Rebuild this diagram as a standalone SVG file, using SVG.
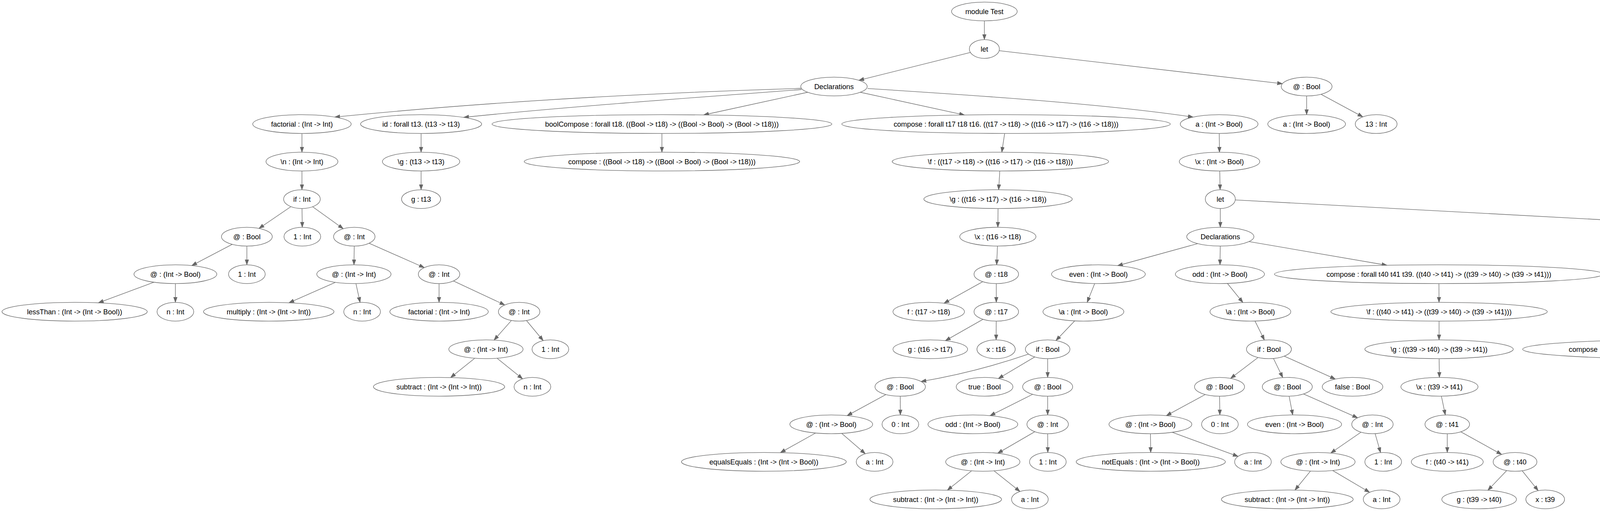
<svg xmlns="http://www.w3.org/2000/svg" width="5594" height="1307" viewBox="0 0 5594 1307">
<style>
.node ellipse{fill:#fff;stroke:#666;stroke-width:1.33}
.node text{font-family:"Liberation Sans",Arial,Helvetica,sans-serif;font-size:18.2px;text-anchor:middle;fill:#000}
.edges path{stroke:#666;stroke-width:1.33;fill:none;marker-end:url(#arrow)}
</style>
<defs>
<marker id="arrow" markerUnits="userSpaceOnUse" markerWidth="15" markerHeight="12" refX="13.3" refY="5" orient="auto">
<path d="M0,0.3 L13.3,5 L0,9.7 Z" fill="#666" stroke="#666" stroke-width="1"/>
</marker>
</defs>
<rect width="5594" height="1307" fill="#fff"/>
<g id="connectors" class="edges">
<path d="M2520,53.3 L2520,101.3"/>
<path d="M2484.3,134.2 L2198.7,205.4"/>
<path d="M2557.9,129.7 L3283,214.1"/>
<path d="M2052,226 C1652,238 1257,259.4 857,299.4"/>
<path d="M2052,229 C1800,248 1450,273 1187,300.2"/>
<path d="M2067.7,236 L1801.3,294"/>
<path d="M2202.3,236 L2469,294.1"/>
<path d="M2221,226.4 C2500,244 2820,265 3054.5,299.5"/>
<path d="M3345,245.3 L3345,293.3"/>
<path d="M3381.7,241.1 L3488.8,298.8"/>
<path d="M773,341.3 L773,389.3"/>
<path d="M1078,341.3 L1078,389.3"/>
<path d="M1694.5,341.3 L1694.5,389.3"/>
<path d="M2571.9,341.3 L2564.6,389.3"/>
<path d="M3121.3,341.3 L3121.8,389.3"/>
<path d="M773,437.3 L773,485.3"/>
<path d="M1078,437.3 L1078,485.3"/>
<path d="M2559.5,437.3 L2556.5,485.3"/>
<path d="M3122.5,437.3 L3123.5,485.3"/>
<path d="M744.8,528.5 L663,584.2"/>
<path d="M773.2,533.3 L773.8,581.3"/>
<path d="M800.3,528.8 L878.7,585"/>
<path d="M2555,533.3 L2554.5,581.3"/>
<path d="M3124,533.3 L3124,581.3"/>
<path d="M3162.4,511.4 L4842.7,601.9"/>
<path d="M594.6,624.9 L491,679.3"/>
<path d="M632,629.3 L632,677.3"/>
<path d="M906.8,629.3 L906.2,677.3"/>
<path d="M944.9,622.1 L1086.1,684.5"/>
<path d="M2553.5,629.3 L2551.5,677.3"/>
<path d="M3066.2,623.1 L2861,679.5"/>
<path d="M3123.8,629.3 L3123.2,677.3"/>
<path d="M3197.3,617.9 L3550.7,678.5"/>
<path d="M4906.4,629.3 L4906.1,677.3"/>
<path d="M4962.3,617.3 L5295.7,689.2"/>
<path d="M393.9,721.8 L251.9,774.6"/>
<path d="M449,725.3 L449,773.3"/>
<path d="M858.7,722.1 L739.8,774.5"/>
<path d="M911.2,725.3 L921.8,773.5"/>
<path d="M1124,725.3 L1124,773.3"/>
<path d="M1160.8,718.6 L1292.2,780"/>
<path d="M2516,720.4 L2416.6,775.6"/>
<path d="M2550.5,725.3 L2550.5,773.3"/>
<path d="M2802.4,725.2 L2783.1,773.4"/>
<path d="M3142.2,725 L3181.8,773.7"/>
<path d="M3683.6,725.3 L3683.9,773.3"/>
<path d="M4863.4,723.7 L4768.1,773.8"/>
<path d="M4948.8,723.7 L5046.7,774.9"/>
<path d="M5351.6,725.3 L5352,773.3"/>
<path d="M5390,720.6 L5509.6,780.7"/>
<path d="M1309.3,819.6 L1264.7,869.9"/>
<path d="M1347.7,819.8 L1390.6,871.2"/>
<path d="M2516.6,816.6 L2420.1,871.4"/>
<path d="M2550.4,821.3 L2550.1,869.3"/>
<path d="M2751.2,820.7 L2703.2,871"/>
<path d="M3212.8,821.1 L3236.9,869.8"/>
<path d="M3684,821.3 L3684,869.3"/>
<path d="M4621.8,818.7 L4376,870.4"/>
<path d="M4737.2,821.3 L4764.8,869.5"/>
<path d="M5089.4,821.3 L5089.1,869.3"/>
<path d="M5147.9,818.1 L5307.9,875.2"/>
<path d="M1215.4,916.2 L1153.5,965.7"/>
<path d="M1272.4,916.2 L1337.9,969"/>
<path d="M2633.2,905.7 Q2498,952 2357.8,975.8"/>
<path d="M2649.1,912.9 L2555.8,968.3"/>
<path d="M2682,917.3 L2682,965.3"/>
<path d="M3220.8,914.3 L3150.3,967.8"/>
<path d="M3260,916.8 L3283.9,965.7"/>
<path d="M3287.7,910.9 L3418.5,969.6"/>
<path d="M3684.2,917.3 L3684.8,965.3"/>
<path d="M4745.2,916.3 L4673.7,965.7"/>
<path d="M4811.5,916.3 L4884.9,967.6"/>
<path d="M2268.1,1009.1 L2168.7,1063.1"/>
<path d="M2304.6,1013.3 L2304.9,1061.3"/>
<path d="M2643.7,1008.5 L2534.7,1063.1"/>
<path d="M2682,1013.3 L2682,1061.3"/>
<path d="M3085.6,1009 L2985.8,1063.2"/>
<path d="M3122.2,1013.3 L3122.8,1061.3"/>
<path d="M3300.1,1013.2 L3309.4,1061.3"/>
<path d="M3337,1007.6 L3475.5,1068.6"/>
<path d="M3690,1013.3 L3700,1061.4"/>
<path d="M2088,1107.5 L1997.7,1157.8"/>
<path d="M2154.8,1108.5 L2215.1,1160.6"/>
<path d="M2649.3,1104.2 L2554,1159.3"/>
<path d="M2682.1,1109.3 L2682.4,1157.3"/>
<path d="M2945.2,1109.3 L2945.8,1157.3"/>
<path d="M3000.8,1105.7 L3169.4,1167.3"/>
<path d="M3484.4,1105.3 L3406.7,1158.8"/>
<path d="M3520.3,1109.1 L3534.2,1157.6"/>
<path d="M3705,1109.3 L3705,1157.3"/>
<path d="M3739.5,1104.4 L3844.2,1162.3"/>
<path d="M2487.3,1204.2 L2425.2,1253.7"/>
<path d="M2544.7,1204.2 L2611.1,1257.1"/>
<path d="M3354.8,1204.8 L3315,1253.5"/>
<path d="M3411.5,1203.4 L3506.2,1259.2"/>
<path d="M3857.2,1203.5 L3808.9,1254"/>
<path d="M3896.7,1204 L3937.7,1254.9"/>
</g>
<g id="n0" class="node"><ellipse cx="2520" cy="29.3" rx="84" ry="24"/><text x="2520" y="35.8">module Test</text></g>
<g id="n1" class="node"><ellipse cx="2520" cy="125.3" rx="38.5" ry="24"/><text x="2520" y="131.8">let</text></g>
<g id="n2" class="node"><ellipse cx="2135" cy="221.3" rx="85" ry="24"/><text x="2135" y="227.8">Declarations</text></g>
<g id="n3" class="node"><ellipse cx="3345" cy="221.3" rx="65" ry="24"/><text x="3345" y="227.8">@ : Bool</text></g>
<g id="n4" class="node"><ellipse cx="773" cy="317.3" rx="126" ry="24"/><text x="773" y="323.8">factorial : (Int -&gt; Int)</text></g>
<g id="n5" class="node"><ellipse cx="1078" cy="317.3" rx="155" ry="24"/><text x="1078" y="323.8">id : forall t13. (t13 -&gt; t13)</text></g>
<g id="n6" class="node"><ellipse cx="1694.5" cy="317.3" rx="435" ry="24"/><text x="1694.5" y="323.8">boolCompose : forall t18. ((Bool -&gt; t18) -&gt; ((Bool -&gt; Bool) -&gt; (Bool -&gt; t18)))</text></g>
<g id="n7" class="node"><ellipse cx="2575.5" cy="317.3" rx="420.5" ry="24"/><text x="2575.5" y="323.8">compose : forall t17 t18 t16. ((t17 -&gt; t18) -&gt; ((t16 -&gt; t17) -&gt; (t16 -&gt; t18)))</text></g>
<g id="n8" class="node"><ellipse cx="3121" cy="317.3" rx="99.5" ry="24"/><text x="3121" y="323.8">a : (Int -&gt; Bool)</text></g>
<g id="n9" class="node"><ellipse cx="3345" cy="317.3" rx="99.5" ry="24"/><text x="3345" y="323.8">a : (Int -&gt; Bool)</text></g>
<g id="n10" class="node"><ellipse cx="3523" cy="317.3" rx="53.5" ry="24"/><text x="3523" y="323.8">13 : Int</text></g>
<g id="n11" class="node"><ellipse cx="773" cy="413.3" rx="92" ry="24"/><text x="773" y="419.8">\n : (Int -&gt; Int)</text></g>
<g id="n12" class="node"><ellipse cx="1078" cy="413.3" rx="99" ry="24"/><text x="1078" y="419.8">\g : (t13 -&gt; t13)</text></g>
<g id="n13" class="node"><ellipse cx="1694.5" cy="413.3" rx="352.5" ry="24"/><text x="1694.5" y="419.8">compose : ((Bool -&gt; t18) -&gt; ((Bool -&gt; Bool) -&gt; (Bool -&gt; t18)))</text></g>
<g id="n14" class="node"><ellipse cx="2561" cy="413.3" rx="277" ry="24"/><text x="2561" y="419.8">\f : ((t17 -&gt; t18) -&gt; ((t16 -&gt; t17) -&gt; (t16 -&gt; t18)))</text></g>
<g id="n15" class="node"><ellipse cx="3122" cy="413.3" rx="103" ry="24"/><text x="3122" y="419.8">\x : (Int -&gt; Bool)</text></g>
<g id="n16" class="node"><ellipse cx="773" cy="509.3" rx="47" ry="24"/><text x="773" y="515.8">if : Int</text></g>
<g id="n17" class="node"><ellipse cx="1078" cy="509.3" rx="50" ry="24"/><text x="1078" y="515.8">g : t13</text></g>
<g id="n18" class="node"><ellipse cx="2555" cy="509.3" rx="190" ry="24"/><text x="2555" y="515.8">\g : ((t16 -&gt; t17) -&gt; (t16 -&gt; t18))</text></g>
<g id="n19" class="node"><ellipse cx="3124" cy="509.3" rx="38.5" ry="24"/><text x="3124" y="515.8">let</text></g>
<g id="n20" class="node"><ellipse cx="632" cy="605.3" rx="65" ry="24"/><text x="632" y="611.8">@ : Bool</text></g>
<g id="n21" class="node"><ellipse cx="774" cy="605.3" rx="47" ry="24"/><text x="774" y="611.8">1 : Int</text></g>
<g id="n22" class="node"><ellipse cx="907" cy="605.3" rx="53" ry="24"/><text x="907" y="611.8">@ : Int</text></g>
<g id="n23" class="node"><ellipse cx="2554.5" cy="605.3" rx="97.5" ry="24"/><text x="2554.5" y="611.8">\x : (t16 -&gt; t18)</text></g>
<g id="n24" class="node"><ellipse cx="3124" cy="605.3" rx="86" ry="24"/><text x="3124" y="611.8">Declarations</text></g>
<g id="n25" class="node"><ellipse cx="4906.5" cy="605.3" rx="64.5" ry="24"/><text x="4906.5" y="611.8">@ : Bool</text></g>
<g id="n26" class="node"><ellipse cx="449" cy="701.3" rx="106" ry="24"/><text x="449" y="707.8">@ : (Int -&gt; Bool)</text></g>
<g id="n27" class="node"><ellipse cx="632" cy="701.3" rx="47" ry="24"/><text x="632" y="707.8">1 : Int</text></g>
<g id="n28" class="node"><ellipse cx="906" cy="701.3" rx="95" ry="24"/><text x="906" y="707.8">@ : (Int -&gt; Int)</text></g>
<g id="n29" class="node"><ellipse cx="1124" cy="701.3" rx="53" ry="24"/><text x="1124" y="707.8">@ : Int</text></g>
<g id="n30" class="node"><ellipse cx="2550.5" cy="701.3" rx="57" ry="24"/><text x="2550.5" y="707.8">@ : t18</text></g>
<g id="n31" class="node"><ellipse cx="2812" cy="701.3" rx="120" ry="24"/><text x="2812" y="707.8">even : (Int -&gt; Bool)</text></g>
<g id="n32" class="node"><ellipse cx="3123" cy="701.3" rx="114" ry="24"/><text x="3123" y="707.8">odd : (Int -&gt; Bool)</text></g>
<g id="n33" class="node"><ellipse cx="3683.5" cy="701.3" rx="421" ry="24"/><text x="3683.5" y="707.8">compose : forall t40 t41 t39. ((t40 -&gt; t41) -&gt; ((t39 -&gt; t40) -&gt; (t39 -&gt; t41)))</text></g>
<g id="n34" class="node"><ellipse cx="4906" cy="701.3" rx="118" ry="24"/><text x="4906" y="707.8">@ : (Bool -&gt; Bool)</text></g>
<g id="n35" class="node"><ellipse cx="5351.6" cy="701.3" rx="64.7" ry="24"/><text x="5351.6" y="707.8">@ : Bool</text></g>
<g id="n36" class="node"><ellipse cx="191" cy="797.3" rx="186" ry="24"/><text x="191" y="803.8">lessThan : (Int -&gt; (Int -&gt; Bool))</text></g>
<g id="n37" class="node"><ellipse cx="449" cy="797.3" rx="47" ry="24"/><text x="449" y="803.8">n : Int</text></g>
<g id="n38" class="node"><ellipse cx="688" cy="797.3" rx="167" ry="24"/><text x="688" y="803.8">multiply : (Int -&gt; (Int -&gt; Int))</text></g>
<g id="n39" class="node"><ellipse cx="927" cy="797.3" rx="47" ry="24"/><text x="927" y="803.8">n : Int</text></g>
<g id="n40" class="node"><ellipse cx="1124" cy="797.3" rx="126" ry="24"/><text x="1124" y="803.8">factorial : (Int -&gt; Int)</text></g>
<g id="n41" class="node"><ellipse cx="1329" cy="797.3" rx="53" ry="24"/><text x="1329" y="803.8">@ : Int</text></g>
<g id="n42" class="node"><ellipse cx="2377.5" cy="797.3" rx="91.5" ry="24"/><text x="2377.5" y="803.8">f : (t17 -&gt; t18)</text></g>
<g id="n43" class="node"><ellipse cx="2550.5" cy="797.3" rx="57" ry="24"/><text x="2550.5" y="803.8">@ : t17</text></g>
<g id="n44" class="node"><ellipse cx="2773.5" cy="797.3" rx="103.5" ry="24"/><text x="2773.5" y="803.8">\a : (Int -&gt; Bool)</text></g>
<g id="n45" class="node"><ellipse cx="3201" cy="797.3" rx="103.5" ry="24"/><text x="3201" y="803.8">\a : (Int -&gt; Bool)</text></g>
<g id="n46" class="node"><ellipse cx="3684" cy="797.3" rx="277" ry="24"/><text x="3684" y="803.8">\f : ((t40 -&gt; t41) -&gt; ((t39 -&gt; t40) -&gt; (t39 -&gt; t41)))</text></g>
<g id="n47" class="node"><ellipse cx="4723.4" cy="797.3" rx="223" ry="24"/><text x="4723.4" y="803.8">@ : ((Bool -&gt; Bool) -&gt; (Bool -&gt; Bool))</text></g>
<g id="n48" class="node"><ellipse cx="5089.5" cy="797.3" rx="118" ry="24"/><text x="5089.5" y="803.8">@ : (Bool -&gt; Bool)</text></g>
<g id="n49" class="node"><ellipse cx="5352" cy="797.3" rx="120.5" ry="24"/><text x="5352" y="803.8">even : (Int -&gt; Bool)</text></g>
<g id="n50" class="node"><ellipse cx="5542.7" cy="797.3" rx="46" ry="24"/><text x="5542.7" y="803.8">x : Int</text></g>
<g id="n51" class="node"><ellipse cx="1244" cy="893.3" rx="95" ry="24"/><text x="1244" y="899.8">@ : (Int -&gt; Int)</text></g>
<g id="n52" class="node"><ellipse cx="1409" cy="893.3" rx="47" ry="24"/><text x="1409" y="899.8">1 : Int</text></g>
<g id="n53" class="node"><ellipse cx="2381.5" cy="893.3" rx="95.5" ry="24"/><text x="2381.5" y="899.8">g : (t16 -&gt; t17)</text></g>
<g id="n54" class="node"><ellipse cx="2550" cy="893.3" rx="49" ry="24"/><text x="2550" y="899.8">x : t16</text></g>
<g id="n55" class="node"><ellipse cx="2682" cy="893.3" rx="57" ry="24"/><text x="2682" y="899.8">if : Bool</text></g>
<g id="n56" class="node"><ellipse cx="3248.5" cy="893.3" rx="57.5" ry="24"/><text x="3248.5" y="899.8">if : Bool</text></g>
<g id="n57" class="node"><ellipse cx="3684" cy="893.3" rx="190" ry="24"/><text x="3684" y="899.8">\g : ((t39 -&gt; t40) -&gt; (t39 -&gt; t41))</text></g>
<g id="n58" class="node"><ellipse cx="4267" cy="893.3" rx="369" ry="24"/><text x="4267" y="899.8">compose : ((Bool -&gt; Bool) -&gt; ((Bool -&gt; Bool) -&gt; (Bool -&gt; Bool)))</text></g>
<g id="n59" class="node"><ellipse cx="4778.5" cy="893.3" rx="117.5" ry="24"/><text x="4778.5" y="899.8">@ : (Bool -&gt; Bool)</text></g>
<g id="n60" class="node"><ellipse cx="5089" cy="893.3" rx="168" ry="24"/><text x="5089" y="899.8">or : (Bool -&gt; (Bool -&gt; Bool))</text></g>
<g id="n61" class="node"><ellipse cx="5358.6" cy="893.3" rx="77" ry="24"/><text x="5358.6" y="899.8">false : Bool</text></g>
<g id="n62" class="node"><ellipse cx="1124" cy="989.3" rx="168" ry="24"/><text x="1124" y="995.8">subtract : (Int -&gt; (Int -&gt; Int))</text></g>
<g id="n63" class="node"><ellipse cx="1363" cy="989.3" rx="47" ry="24"/><text x="1363" y="995.8">n : Int</text></g>
<g id="n64" class="node"><ellipse cx="2304.5" cy="989.3" rx="64.5" ry="24"/><text x="2304.5" y="995.8">@ : Bool</text></g>
<g id="n65" class="node"><ellipse cx="2520.5" cy="989.3" rx="72.5" ry="24"/><text x="2520.5" y="995.8">true : Bool</text></g>
<g id="n66" class="node"><ellipse cx="2682" cy="989.3" rx="64" ry="24"/><text x="2682" y="995.8">@ : Bool</text></g>
<g id="n67" class="node"><ellipse cx="3122" cy="989.3" rx="64" ry="24"/><text x="3122" y="995.8">@ : Bool</text></g>
<g id="n68" class="node"><ellipse cx="3295.5" cy="989.3" rx="64" ry="24"/><text x="3295.5" y="995.8">@ : Bool</text></g>
<g id="n69" class="node"><ellipse cx="3462.5" cy="989.3" rx="77.5" ry="24"/><text x="3462.5" y="995.8">false : Bool</text></g>
<g id="n70" class="node"><ellipse cx="3685" cy="989.3" rx="98.7" ry="24"/><text x="3685" y="995.8">\x : (t39 -&gt; t41)</text></g>
<g id="n71" class="node"><ellipse cx="4639.6" cy="989.3" rx="178.6" ry="24"/><text x="4639.6" y="995.8">and : (Bool -&gt; (Bool -&gt; Bool))</text></g>
<g id="n72" class="node"><ellipse cx="4916" cy="989.3" rx="73" ry="24"/><text x="4916" y="995.8">true : Bool</text></g>
<g id="n73" class="node"><ellipse cx="2128" cy="1085.3" rx="106" ry="24"/><text x="2128" y="1091.8">@ : (Int -&gt; Bool)</text></g>
<g id="n74" class="node"><ellipse cx="2305" cy="1085.3" rx="47" ry="24"/><text x="2305" y="1091.8">0 : Int</text></g>
<g id="n75" class="node"><ellipse cx="2490.5" cy="1085.3" rx="115" ry="24"/><text x="2490.5" y="1091.8">odd : (Int -&gt; Bool)</text></g>
<g id="n76" class="node"><ellipse cx="2682" cy="1085.3" rx="53" ry="24"/><text x="2682" y="1091.8">@ : Int</text></g>
<g id="n77" class="node"><ellipse cx="2945" cy="1085.3" rx="106" ry="24"/><text x="2945" y="1091.8">@ : (Int -&gt; Bool)</text></g>
<g id="n78" class="node"><ellipse cx="3123" cy="1085.3" rx="47" ry="24"/><text x="3123" y="1091.8">0 : Int</text></g>
<g id="n79" class="node"><ellipse cx="3314" cy="1085.3" rx="120.5" ry="24"/><text x="3314" y="1091.8">even : (Int -&gt; Bool)</text></g>
<g id="n80" class="node"><ellipse cx="3513.5" cy="1085.3" rx="53" ry="24"/><text x="3513.5" y="1091.8">@ : Int</text></g>
<g id="n81" class="node"><ellipse cx="3705" cy="1085.3" rx="57" ry="24"/><text x="3705" y="1091.8">@ : t41</text></g>
<g id="n82" class="node"><ellipse cx="1955.5" cy="1181.3" rx="211" ry="24"/><text x="1955.5" y="1187.8">equalsEquals : (Int -&gt; (Int -&gt; Bool))</text></g>
<g id="n83" class="node"><ellipse cx="2239" cy="1181.3" rx="47" ry="24"/><text x="2239" y="1187.8">a : Int</text></g>
<g id="n84" class="node"><ellipse cx="2516" cy="1181.3" rx="95" ry="24"/><text x="2516" y="1187.8">@ : (Int -&gt; Int)</text></g>
<g id="n85" class="node"><ellipse cx="2682.5" cy="1181.3" rx="47" ry="24"/><text x="2682.5" y="1187.8">1 : Int</text></g>
<g id="n86" class="node"><ellipse cx="2946" cy="1181.3" rx="191" ry="24"/><text x="2946" y="1187.8">notEquals : (Int -&gt; (Int -&gt; Bool))</text></g>
<g id="n87" class="node"><ellipse cx="3207.6" cy="1181.3" rx="47" ry="24"/><text x="3207.6" y="1187.8">a : Int</text></g>
<g id="n88" class="node"><ellipse cx="3374" cy="1181.3" rx="95" ry="24"/><text x="3374" y="1187.8">@ : (Int -&gt; Int)</text></g>
<g id="n89" class="node"><ellipse cx="3541" cy="1181.3" rx="47" ry="24"/><text x="3541" y="1187.8">1 : Int</text></g>
<g id="n90" class="node"><ellipse cx="3705" cy="1181.3" rx="92" ry="24"/><text x="3705" y="1187.8">f : (t40 -&gt; t41)</text></g>
<g id="n91" class="node"><ellipse cx="3878.5" cy="1181.3" rx="56" ry="24"/><text x="3878.5" y="1187.8">@ : t40</text></g>
<g id="n92" class="node"><ellipse cx="2395.5" cy="1277.3" rx="168.5" ry="24"/><text x="2395.5" y="1283.8">subtract : (Int -&gt; (Int -&gt; Int))</text></g>
<g id="n93" class="node"><ellipse cx="2636.5" cy="1277.3" rx="47" ry="24"/><text x="2636.5" y="1283.8">a : Int</text></g>
<g id="n94" class="node"><ellipse cx="3295.5" cy="1277.3" rx="168.7" ry="24"/><text x="3295.5" y="1283.8">subtract : (Int -&gt; (Int -&gt; Int))</text></g>
<g id="n95" class="node"><ellipse cx="3537" cy="1277.3" rx="47" ry="24"/><text x="3537" y="1283.8">a : Int</text></g>
<g id="n96" class="node"><ellipse cx="3786.6" cy="1277.3" rx="95.5" ry="24"/><text x="3786.6" y="1283.8">g : (t39 -&gt; t40)</text></g>
<g id="n97" class="node"><ellipse cx="3955.7" cy="1277.3" rx="49.5" ry="24"/><text x="3955.7" y="1283.8">x : t39</text></g>
</svg>
